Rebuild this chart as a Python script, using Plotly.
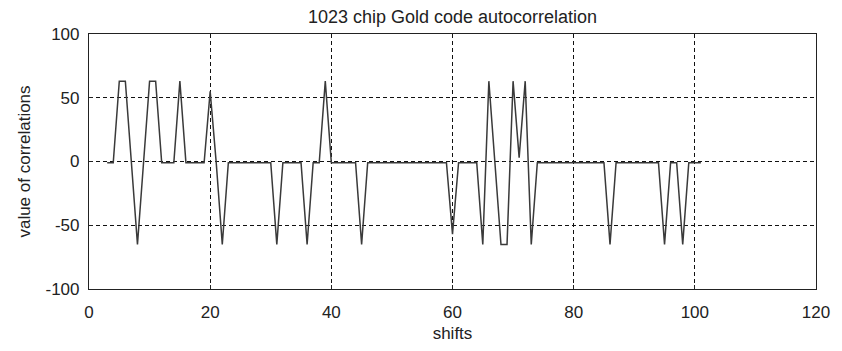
import plotly.graph_objects as go

shifts = list(range(3, 102))
values = [
    -1, -1, 63, 63, -1, -65, -1, 63, 63, -1,      # 3-12
    -1, -1, 63, -1, -1, -1, -1, 55, -1, -65,      # 13-22
    -1, -1, -1, -1, -1, -1, -1, -1, -65, -1,      # 23-32
    -1, -1, -1, -65, -1, -1, 63, -1, -1, -1,      # 33-42
    -1, -1, -65, -1, -1, -1, -1, -1, -1, -1,      # 43-52
    -1, -1, -1, -1, -1, -1, -1, -57, -1, -1,      # 53-62
    -1, -1, -65, 63, -1, -65, -65, 63, 3, 63,     # 63-72
    -65, -1, -1, -1, -1, -1, -1, -1, -1, -1,      # 73-82
    -1, -1, -1, -65, -1, -1, -1, -1, -1, -1,      # 83-92
    -1, -1, -65, -1, -1, -65, -1, -1, -1,         # 93-101
]

x_ticks = [0, 20, 40, 60, 80, 100, 120]
y_ticks = [-100, -50, 0, 50, 100]
y_tick_labels = ["-100", "-50", "0", "50", "100"]

font = "Liberation Sans, Arial, sans-serif"
txt = "#222222"

fig = go.Figure()
fig.add_trace(go.Scatter(x=shifts, y=values, mode="lines",
                         line=dict(color="#3a3a3a", width=1.5),
                         showlegend=False))

axis_common = dict(
    showline=True, linecolor="#222222", linewidth=1.2, mirror=True,
    showgrid=True, gridcolor="#111111", griddash="4px,3px", gridwidth=1,
    zeroline=False, ticks="inside", ticklen=4, tickcolor="#222222",
    tickfont=dict(family=font, size=17, color=txt),
)

fig.update_xaxes(range=[0, 120], tickvals=x_ticks, ticklabelstandoff=7,
                 title=dict(text="shifts", font=dict(family=font, size=17, color=txt), standoff=6),
                 **axis_common)
fig.update_yaxes(range=[-100, 100], tickvals=y_ticks, ticktext=y_tick_labels,
                 ticklabelstandoff=5,
                 title=dict(text="value of correlations", font=dict(family=font, size=17, color=txt), standoff=10),
                 **axis_common)

fig.update_layout(
    width=842, height=351,
    margin=dict(l=89, r=17, t=34, b=59),
    paper_bgcolor="white", plot_bgcolor="white",
    title=dict(text="1023 chip Gold code autocorrelation",
               font=dict(family=font, size=18, color=txt),
               x=0.5, xref="paper", xanchor="center",
               y=1 - 17 / 351, yref="container", yanchor="middle"),
)

fig.write_html("out.html")
